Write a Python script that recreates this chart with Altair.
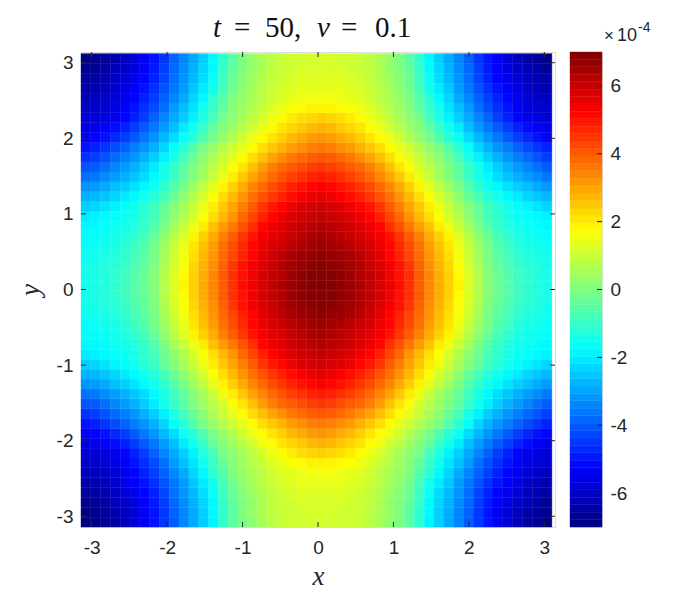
import numpy as np
import pandas as pd
import altair as alt

PI = 3.14159265
TICK = "#262626"

# one quadrant of the field (x 1e-4), row = |y| from 0 to pi, column = |x| from 0 to pi
q00 = [7.0,6.9,6.8,6.6,6.4,6.1,5.8,5.5,5.1,4.6,4.0,3.4,2.9,2.4,1.9,1.3,0.7,0.1,-0.3,-0.6,-0.9,-1.1,-1.3,-1.4,-1.5]
q01 = [6.9,6.9,6.8,6.6,6.3,6.1,5.8,5.4,5.0,4.6,4.0,3.4,2.9,2.4,1.8,1.3,0.7,0.1,-0.3,-0.6,-0.9,-1.1,-1.3,-1.4,-1.5]
q02 = [6.9,6.8,6.7,6.5,6.3,6.0,5.7,5.4,5.0,4.5,3.9,3.3,2.8,2.3,1.7,1.2,0.6,0.0,-0.4,-0.7,-1.0,-1.2,-1.3,-1.5,-1.5]
q03 = [6.8,6.7,6.6,6.4,6.2,5.9,5.6,5.2,4.8,4.3,3.8,3.2,2.7,2.2,1.6,1.1,0.5,-0.1,-0.5,-0.8,-1.1,-1.3,-1.4,-1.5,-1.6]
q04 = [6.6,6.5,6.4,6.2,6.0,5.8,5.5,5.2,4.7,4.2,3.7,3.1,2.6,2.1,1.5,1.0,0.4,-0.1,-0.6,-0.9,-1.2,-1.4,-1.5,-1.6,-1.7]
q05 = [6.5,6.4,6.2,6.0,5.8,5.6,5.4,5.0,4.5,4.0,3.5,2.9,2.4,1.9,1.3,0.8,0.2,-0.3,-0.8,-1.1,-1.3,-1.5,-1.6,-1.7,-1.7]
q06 = [6.3,6.2,6.1,5.9,5.7,5.5,5.2,4.6,4.1,3.6,3.1,2.6,2.0,1.5,1.0,0.5,-0.1,-0.6,-1.0,-1.3,-1.5,-1.6,-1.7,-1.8,-1.8]
q07 = [6.1,6.0,5.9,5.7,5.5,5.2,4.8,4.3,3.8,3.2,2.7,2.2,1.7,1.2,0.7,0.2,-0.3,-0.8,-1.1,-1.4,-1.6,-1.7,-1.8,-1.9,-2.0]
q08 = [5.9,5.8,5.7,5.5,5.2,4.9,4.5,4.0,3.5,3.0,2.5,2.0,1.5,1.0,0.5,0.1,-0.4,-0.9,-1.2,-1.5,-1.7,-1.9,-2.1,-2.3,-2.4]
q09 = [5.6,5.5,5.3,5.1,4.8,4.5,4.1,3.7,3.2,2.7,2.2,1.7,1.2,0.7,0.2,-0.3,-0.8,-1.2,-1.5,-1.8,-2.0,-2.3,-2.5,-2.7,-2.8]
q10 = [5.3,5.2,5.0,4.8,4.5,4.2,3.8,3.4,2.9,2.4,1.9,1.4,0.9,0.4,-0.1,-0.6,-1.1,-1.5,-1.8,-2.1,-2.4,-2.6,-2.9,-3.1,-3.2]
q11 = [4.9,4.8,4.6,4.4,4.1,3.8,3.4,3.0,2.5,2.0,1.5,1.0,0.5,0.1,-0.4,-0.9,-1.4,-1.8,-2.2,-2.5,-2.8,-3.1,-3.3,-3.6,-3.7]
q12 = [4.5,4.4,4.2,4.0,3.8,3.5,3.1,2.6,2.1,1.7,1.2,0.8,0.4,0.0,-0.5,-1.0,-1.5,-2.0,-2.4,-2.8,-3.1,-3.4,-3.7,-4.0,-4.1]
q13 = [4.05,4.0,3.8,3.6,3.3,3.0,2.6,2.2,1.8,1.4,1.0,0.6,0.2,-0.3,-0.8,-1.4,-1.9,-2.4,-2.8,-3.2,-3.5,-3.8,-4.1,-4.4,-4.6]
q14 = [3.6,3.5,3.3,3.1,2.8,2.5,2.2,1.8,1.4,1.1,0.7,0.3,-0.1,-0.6,-1.2,-1.7,-2.3,-2.8,-3.2,-3.5,-3.9,-4.2,-4.5,-4.8,-5.0]
q15 = [3.2,3.1,2.9,2.7,2.4,2.1,1.8,1.5,1.1,0.7,0.3,-0.1,-0.6,-1.2,-1.6,-2.2,-2.7,-3.2,-3.6,-4.0,-4.4,-4.7,-5.0,-5.2,-5.3]
q16 = [2.8,2.7,2.5,2.3,2.1,1.8,1.5,1.1,0.8,0.4,0.1,-0.4,-1.0,-1.5,-2.0,-2.6,-3.1,-3.6,-4.0,-4.4,-4.8,-5.1,-5.3,-5.5,-5.6]
q17 = [2.4,2.3,2.2,2.0,1.8,1.5,1.2,0.9,0.5,0.2,-0.1,-0.8,-1.3,-1.9,-2.4,-2.9,-3.4,-3.9,-4.4,-4.8,-5.2,-5.5,-5.6,-5.8,-5.8]
q18 = [1.9,1.9,1.8,1.7,1.5,1.3,1.0,0.7,0.4,0.1,-0.4,-1.0,-1.5,-2.1,-2.6,-3.1,-3.7,-4.2,-4.6,-5.0,-5.3,-5.6,-5.8,-5.9,-6.0]
q19 = [1.6,1.6,1.5,1.4,1.3,1.1,0.8,0.6,0.3,0.0,-0.6,-1.1,-1.8,-2.3,-2.9,-3.4,-3.9,-4.4,-4.8,-5.2,-5.5,-5.8,-6.0,-6.1,-6.2]
q20 = [1.4,1.4,1.4,1.3,1.2,1.0,0.8,0.5,0.2,-0.2,-0.8,-1.5,-2.0,-2.5,-3.1,-3.6,-4.1,-4.6,-5.0,-5.3,-5.6,-5.9,-6.2,-6.3,-6.4]
q21 = [1.3,1.3,1.3,1.2,1.1,0.9,0.7,0.4,0.1,-0.3,-0.9,-1.6,-2.2,-2.7,-3.2,-3.7,-4.3,-4.8,-5.2,-5.5,-5.8,-6.1,-6.3,-6.5,-6.6]
q22 = [1.2,1.2,1.2,1.1,1.0,0.9,0.6,0.3,0.0,-0.4,-1.0,-1.8,-2.3,-2.8,-3.3,-3.8,-4.4,-4.9,-5.3,-5.7,-6.0,-6.2,-6.5,-6.7,-6.8]
q23 = [1.2,1.2,1.1,1.1,1.0,0.8,0.6,0.3,0.0,-0.5,-1.1,-1.8,-2.4,-2.9,-3.4,-3.9,-4.5,-5.0,-5.4,-5.8,-6.1,-6.4,-6.6,-6.8,-6.9]
q24 = [1.2,1.1,1.1,1.1,1.0,0.8,0.5,0.2,-0.1,-0.5,-1.1,-1.9,-2.4,-2.9,-3.4,-4.0,-4.5,-5.0,-5.5,-5.8,-6.2,-6.5,-6.7,-6.9,-7.0]
quadrant = [q00,q01,q02,q03,q04,q05,q06,q07,q08,q09,q10,q11,q12,q13,q14,q15,q16,q17,q18,q19,q20,q21,q22,q23,q24]

axis_ticks = [-3, -2, -1, 0, 1, 2, 3]
cbar_ticks = [-6, -4, -2, 0, 2, 4, 6]
jet_stops = [-7, -5.25, -3.5, -1.75, 0, 1.75, 3.5, 5.25, 7]
jet_colors = ["#00007f", "#0000ff", "#007fff", "#00ffff", "#7fff7f", "#ffff00", "#ff7f00", "#ff0000", "#7f0000"]

W, H = 474, 475
CBW = 32
N = 48
x_edges = np.linspace(-PI, 3.10, N + 1)
y_edges = np.linspace(-PI, 3.12, N + 1)
rows = []
for j in range(N):
    for i in range(N):
        rows.append({"x": x_edges[i], "x2": x_edges[i + 1], "y": y_edges[j], "y2": y_edges[j + 1],
                     "v": quadrant[abs(j - 24)][abs(i - 24)]})
field = pd.DataFrame(rows)

color_scale = alt.Scale(domain=jet_stops, range=jet_colors, interpolate="rgb", clamp=True)
xs = alt.Scale(domain=[-PI, PI], nice=False, zero=False)
ys = alt.Scale(domain=[-PI, PI], nice=False, zero=False)

def common_axis(title, **kw):
    return alt.Axis(title=title, values=axis_ticks, labelExpr="datum.value + ''", tickSize=0, domain=False,
                    grid=False, labelFont="Liberation Sans", labelFontSize=19, labelColor=TICK,
                    titleFont="Liberation Serif", titleFontStyle="italic", titleFontWeight="normal",
                    titleFontSize=27, titleColor=TICK, **kw)

heat = alt.Chart(field).mark_rect(strokeWidth=0.4).encode(
    x=alt.X("x:Q", scale=xs, axis=common_axis("x", labelPadding=11, titlePadding=6)),
    x2="x2:Q",
    y=alt.Y("y:Q", scale=ys, axis=common_axis("y", labelPadding=8, titlePadding=12, labelAngle=0)),
    y2="y2:Q",
    color=alt.Color("v:Q", scale=color_scale, legend=None),
    stroke=alt.Stroke("v:Q", scale=color_scale, legend=None),
)

tick_df = pd.DataFrame({"t": axis_ticks})
tick_x = alt.Chart(tick_df).encode(x=alt.X("t:Q", scale=xs))
tick_y = alt.Chart(tick_df).encode(y=alt.Y("t:Q", scale=ys))
ticks = [
    tick_x.mark_rule(color=TICK, strokeWidth=1).encode(y=alt.value(0), y2=alt.value(5)),
    tick_x.mark_rule(color=TICK, strokeWidth=1).encode(y=alt.value(H), y2=alt.value(H - 5)),
    tick_y.mark_rule(color=TICK, strokeWidth=1).encode(x=alt.value(0), x2=alt.value(5)),
    tick_y.mark_rule(color=TICK, strokeWidth=1).encode(x=alt.value(W), x2=alt.value(W - 5)),
]

title_parts = [("t", 132, "italic"), ("=", 153, "normal"), ("50,", 184, "normal"),
               ("\u03bd", 236, "italic"), ("=", 260, "normal"), ("0.1", 294, "normal")]
title_layers = [
    alt.Chart(pd.DataFrame({"s": [s]})).mark_text(
        font="Liberation Serif", fontSize=29, fontStyle=style, align="left", baseline="alphabetic", color="#111111"
    ).encode(x=alt.value(px), y=alt.value(-15), text="s:N")
    for s, px, style in title_parts
]

main = alt.layer(heat, *ticks, *title_layers).properties(width=W, height=H)

# colour bar
cb_edges = np.linspace(-7, 7, 65)
cb = pd.DataFrame({"a": cb_edges[:-1], "b": cb_edges[1:], "v": (cb_edges[:-1] + cb_edges[1:]) / 2})
cs = alt.Scale(domain=[-7, 7], nice=False, zero=False)
bar = alt.Chart(cb).mark_rect(strokeWidth=0.4).encode(
    x=alt.value(0), x2=alt.value(CBW),
    y=alt.Y("a:Q", scale=cs, axis=alt.Axis(title=None, orient="right", values=cbar_ticks, labelExpr="datum.value + ''",
            tickSize=0, domain=False, grid=False, labelFont="Liberation Sans", labelFontSize=19,
            labelColor=TICK, labelPadding=8)),
    y2="b:Q",
    color=alt.Color("v:Q", scale=color_scale, legend=None),
    stroke=alt.Stroke("v:Q", scale=color_scale, legend=None),
)
cb_tick = alt.Chart(pd.DataFrame({"t": cbar_ticks})).mark_rule(color=TICK, strokeWidth=1).encode(
    y=alt.Y("t:Q", scale=cs), x=alt.value(CBW), x2=alt.value(CBW - 5))
exp_parts = [("\u00d7", 34, -11, 17), ("10", 47, -11, 18), ("-4", 68, -20, 14)]
exp_layers = [
    alt.Chart(pd.DataFrame({"s": [s]})).mark_text(
        font="Liberation Sans", fontSize=fs, align="left", baseline="alphabetic", color=TICK
    ).encode(x=alt.value(px), y=alt.value(py), text="s:N")
    for s, px, py, fs in exp_parts
]
colorbar = alt.layer(bar, cb_tick, *exp_layers).properties(width=CBW, height=H)

chart = alt.hconcat(main, colorbar, spacing=13).resolve_scale(color="independent", stroke="independent").properties(
    padding={"left": 7, "top": 5, "right": 5, "bottom": 5}
).configure_view(stroke=TICK, strokeWidth=1).configure(background="white")

chart.save("out.html", embed_options={"renderer": "svg", "actions": False})
